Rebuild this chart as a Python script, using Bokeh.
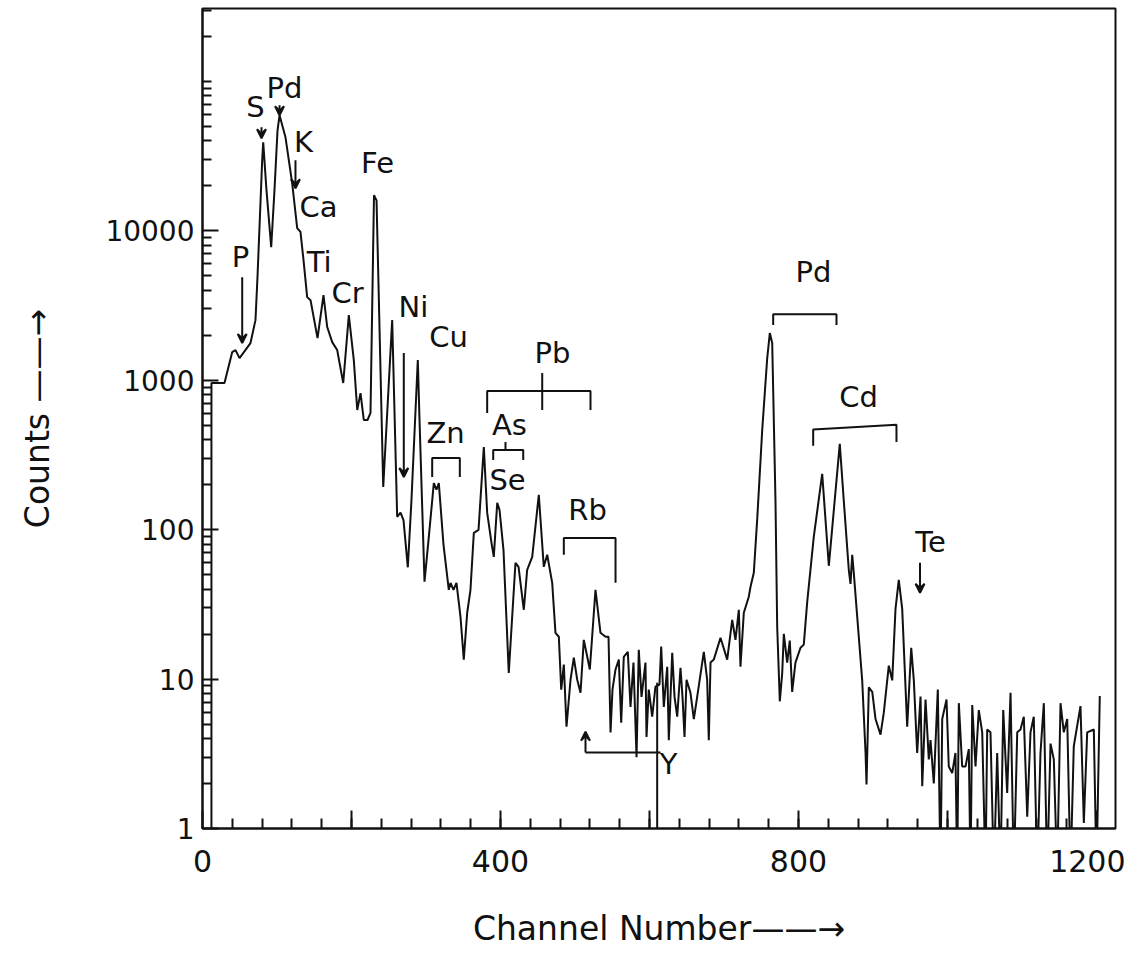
from bokeh.plotting import figure
from bokeh.models import Range1d, FixedTicker, ColumnDataSource, Arrow, VeeHead
from bokeh.core.properties import value
from bokeh.embed import file_html
from bokeh.resources import INLINE

# ---- spectrum (channel number, counts) ----
channel = [12, 12, 29.5, 39.9, 44.3, 49.7, 64.4, 71.1, 73.8, 76.5, 80.1, 81.5, 85.9, 92.2, 96.6,
           100.7, 103.4, 111.4, 120.4, 127.1, 131.5, 135.6, 140.5, 145.0, 154.4, 162.4, 167.4,
           174.1, 180.8, 188.9, 196.4, 203.1, 207.7, 212.1, 216.5, 221.5, 225.5, 230.2, 233.6,
           242.6, 254.6, 261.3, 265.8, 269.8, 275.6, 280.5, 289.0, 291.3, 298.0, 303.4,
           310.5, 314.1, 317.2, 323.5, 330.6, 332.9, 336.9, 340.9, 346.3, 350.7, 355.3, 359.7,
           364.2, 370.5, 377.6, 382.1, 387.9, 391.0, 395.6, 398.7, 404.0, 411.1, 420.1, 424.2,
           431.3, 435.8, 442.6, 451.4, 458.1, 462.7, 469.4, 473.8, 478.3, 481.5, 485.0, 488.6,
           494.0, 498.4, 503.0, 507.4, 511.8, 519.9, 527.5, 534.2, 541.0, 545.0, 547.7, 550.3,
           554.4, 558.8, 562.0, 565.5, 570.9, 574.5, 578.5, 582.6, 585.6, 589.3, 594.6, 596.0,
           599.0, 603.6, 608.0, 613.4, 615.7, 619.2, 623.8, 625.9, 630.5, 633.6, 637.2, 641.6,
           644.3, 647.0, 649.7, 655.0, 659.5, 664.0, 672.9, 677.4, 679.6, 681.9, 686.3, 695.3,
           704.3, 711.0, 715.4, 719.9, 722.1, 726.6, 733.3, 735.6, 740.0, 744.6, 751.3, 758.0,
           761.5, 764.7, 769.1, 771.4, 774.9, 778.1, 780.3, 784.8, 788.3, 791.5, 795.9, 802.7,
           807.1, 811.7, 820.5, 831.8, 840.7, 855.4, 860.8, 867.5, 869.8, 872.1, 874.2, 885.5,
           890.0, 891.3, 894.4, 899.0, 903.4, 910.1, 914.5, 921.2, 925.8, 930.2, 934.6, 939.2,
           945.9, 951.3, 954.8, 959.3, 963.8, 966.1, 970.5, 974.9, 977.2, 981.6, 987.0, 990.6,
           992.9, 998.7, 1001.7, 1006.3, 1010.7, 1013.0, 1015.2, 1019.7, 1024.2, 1028.6, 1030.9,
           1033.2, 1037.6, 1042.0, 1046.6, 1051.0, 1053.3, 1057.7, 1062.2, 1066.7, 1071.1,
           1074.8, 1080.1, 1084.6, 1089.0, 1093.6, 1098.0, 1102.4, 1107.0, 1111.4, 1115.8,
           1120.4, 1124.8, 1129.3, 1133.8, 1138.3, 1142.7, 1147.2, 1151.7, 1156.1, 1160.7,
           1165.1, 1169.5, 1178.5, 1183.0, 1187.5, 1196.4, 1200.0, 1204.4]
counts = [0.5, 958, 958, 1545, 1592, 1407, 1774, 2525, 4895, 10570, 29640, 39100, 18660, 7770, 18660,
          47000, 59300, 42250, 20800, 10440, 9840, 6370, 3600, 3435, 1915, 3715, 2270,
          1800, 1592, 958, 2728, 1365, 632, 820, 542, 542, 604, 17300, 16000,
          193, 2525, 122, 130, 116, 56, 158, 1365, 542, 44.8, 85.5,
          205, 185, 205, 79, 39.6, 44, 39.6, 44, 26.1, 13.5, 27.8, 39.6,
          95.2, 99.7, 357, 130, 81.6, 65.8, 151, 135.6, 73.3, 11, 60, 56.4,
          29.1, 53.9, 65.8, 171, 56.4, 67.9, 44, 20.4, 19.2, 8.5, 12.5, 4.8,
          9.9, 13.9, 9.9, 8.1, 18.3, 11.6, 39.6, 20.4, 19.2, 19.2, 4.4, 8.5,
          11.6, 13.5, 5.1, 14.1, 15.2, 6.5, 12.9, 3.0, 15.7, 7.6, 12.9, 4.1,
          8.5, 5.6, 8.9, 9.2, 16.5, 6.5, 12.1, 3.9, 15.0, 7.6, 5.6, 11.9,
          7.6, 4.1, 9.9, 8.1, 5.4, 7.6, 15.2, 9.9, 3.9, 12.9, 13.5, 18.9,
          13.5, 24.9, 18.3, 29.1, 12.1, 27.8, 35.6, 41.5, 51.4, 118, 465, 1407,
          2068, 1774, 156, 22.4, 7.1, 10.9, 20.1, 12.9, 18.1, 8.2, 12.9, 16.2,
          17.0, 32.9, 89.5, 236, 57.3, 375, 156, 53.9, 43.4, 67.9, 51.4, 9.8,
          3.2, 1.97, 8.8, 8.2, 5.4, 4.25, 5.96, 12.3, 9.8, 29.5, 46.2, 29.5,
          4.8, 16.2, 9.8, 3.2, 7.65, 1.92, 7.3, 2.9, 3.9, 2.0, 8.5, 0.5,
          5.4, 7.3, 2.6, 2.35, 3.2, 0.5, 6.9, 2.6, 2.6, 3.4, 0.5,
          6.7, 2.6, 6.2, 4.4, 0.5, 4.6, 4.4, 0.5, 3.2, 0.5,
          6.2, 1.73, 8.1, 0.5, 4.4, 4.6, 5.6, 1.2, 4.4, 5.6,
          0.5, 3.2, 6.9, 0.5, 3.7, 2.9, 0.5, 6.9, 4.4, 5.4,
          0.5, 3.55, 6.6, 1.09, 4.4, 4.6, 0.5, 7.7]

# ---- axis ticks ----
x_ticks = [0, 200, 400, 600, 800, 1000, 1200]
x_tick_labels = {0: "0", 200: "", 400: "400", 600: "", 800: "800", 1000: "", 1200: "1200"}
y_ticks = [1, 10, 100, 1000, 10000]
y_tick_labels = {1: "1", 10: "10", 100: "100", 1000: "1000", 10000: "10000"}

# ---- element labels ----
label_text = ["S", "Pd", "K", "Ca", "Ti", "Cr", "Fe", "P", "Ni", "Cu", "Zn", "Pb",
              "As", "Se", "Rb", "Pd", "Cd", "Te", "Y"]
label_ch = [71.1, 110, 135.6, 155.7, 156.5, 194.6, 234.9, 51, 283.2, 330.2, 326.2, 469.8,
            412, 409.4, 516.8, 820.1, 880.5, 977.2, 625.5]
label_cnt = [67000, 89800, 39100, 14380, 6170, 3830, 28300, 6665, 3085, 1945, 444, 1520,
             502, 215, 136, 5290, 773, 82.9, 2.72]

# ---- arrows (channel, from counts, to counts) ----
arrow_ch = [79.2, 103.4, 124.8, 53.3, 270.2, 963.1, 514.1]
arrow_from = [49300, 69200, 29650, 4895, 1520, 60, 3.22]
arrow_to = [41600, 59300, 19270, 1774, 225, 37.8, 4.45]

# ---- brackets ----
bracket_xs = [[308.3, 308.3, 345.4, 345.4],
              [382.1, 382.1, 520.8, 520.8], [456, 456],
              [390.2, 390.2, 430.5, 430.5], [406.7, 406.7],
              [485, 485, 554.4, 554.4],
              [766, 766, 851, 851],
              [819.7, 819.7, 931.5, 931.5],
              [514.1, 614.8], [610.3, 610.3]]
bracket_ys = [[225, 302, 302, 225],
              [604, 847, 847, 632], [632, 1117],
              [293, 341, 341, 293], [341, 386],
              [67.9, 88.1, 88.1, 44.1],
              [2340, 2770, 2770, 2340],
              [365, 468, 503, 386],
              [3.22, 3.22], [9.46, 0.5]]

FONT = "DejaVu Sans"
INK = "#111111"

p = figure(width=1125, height=950, output_backend="svg", toolbar_location=None,
           y_axis_type="log",
           x_range=Range1d(0, 1225.5), y_range=Range1d(1, 307600),
           min_border_left=202, min_border_right=10, min_border_top=8, min_border_bottom=121)
p.background_fill_color = "white"
p.border_fill_color = "white"
p.outline_line_color = INK
p.outline_line_width = 2
p.xgrid.visible = False
p.ygrid.visible = False

p.line(channel, counts, line_color=INK, line_width=2)

p.multi_line(bracket_xs, bracket_ys, line_color=INK, line_width=2)

asrc = ColumnDataSource(dict(x=arrow_ch, y0=arrow_from, y1=arrow_to))
p.add_layout(Arrow(end=VeeHead(size=9, line_color=INK, fill_color=INK, line_width=2),
                   x_start="x", y_start="y0", x_end="x", y_end="y1", source=asrc,
                   line_color=INK, line_width=2))

p.text(label_ch, label_cnt, text=label_text, text_font=value(FONT), text_font_size="29px",
       text_align="center", text_baseline="middle", text_color=INK)

ax = p.xaxis[0]
ax.ticker = FixedTicker(ticks=x_ticks, minor_ticks=list(range(40, 1225, 40)))
ax.major_label_overrides = x_tick_labels
ax.major_tick_in = 18
ax.major_tick_out = 0
ax.minor_tick_in = 10
ax.minor_tick_out = 0
ax.axis_line_width = 2
ax.axis_line_color = INK
ax.major_tick_line_width = 2
ax.minor_tick_line_width = 2
ax.major_tick_line_color = INK
ax.minor_tick_line_color = INK
ax.major_label_standoff = 21
ax.major_label_text_font = FONT
ax.major_label_text_font_size = "30px"
ax.major_label_text_color = INK
ax.axis_label = "Channel Number\u2014\u2014\u2192"
ax.axis_label_text_font = FONT
ax.axis_label_text_font_style = "normal"
ax.axis_label_text_font_size = "33px"
ax.axis_label_text_color = INK
ax.axis_label_standoff = 34

ay = p.yaxis[0]
ay.ticker = FixedTicker(ticks=y_ticks,
                        minor_ticks=[m * d for d in (1, 10, 100, 1000, 10000, 100000)
                                     for m in (2, 3, 4, 5, 6, 7, 8, 9)] + [100000])
ay.major_label_overrides = y_tick_labels
ay.major_tick_in = 16
ay.major_tick_out = 0
ay.minor_tick_in = 9
ay.minor_tick_out = 0
ay.axis_line_width = 2
ay.axis_line_color = INK
ay.major_tick_line_width = 2
ay.minor_tick_line_width = 2
ay.major_tick_line_color = INK
ay.minor_tick_line_color = INK
ay.major_label_standoff = 8
ay.major_label_text_font = FONT
ay.major_label_text_font_size = "28px"
ay.major_label_text_color = INK
ay.axis_label = "Counts \u2014\u2014\u2192"
ay.axis_label_text_font = FONT
ay.axis_label_text_font_style = "normal"
ay.axis_label_text_font_size = "33px"
ay.axis_label_text_color = INK
ay.axis_label_standoff = 45

open("out.html", "w").write(file_html(p, INLINE))
